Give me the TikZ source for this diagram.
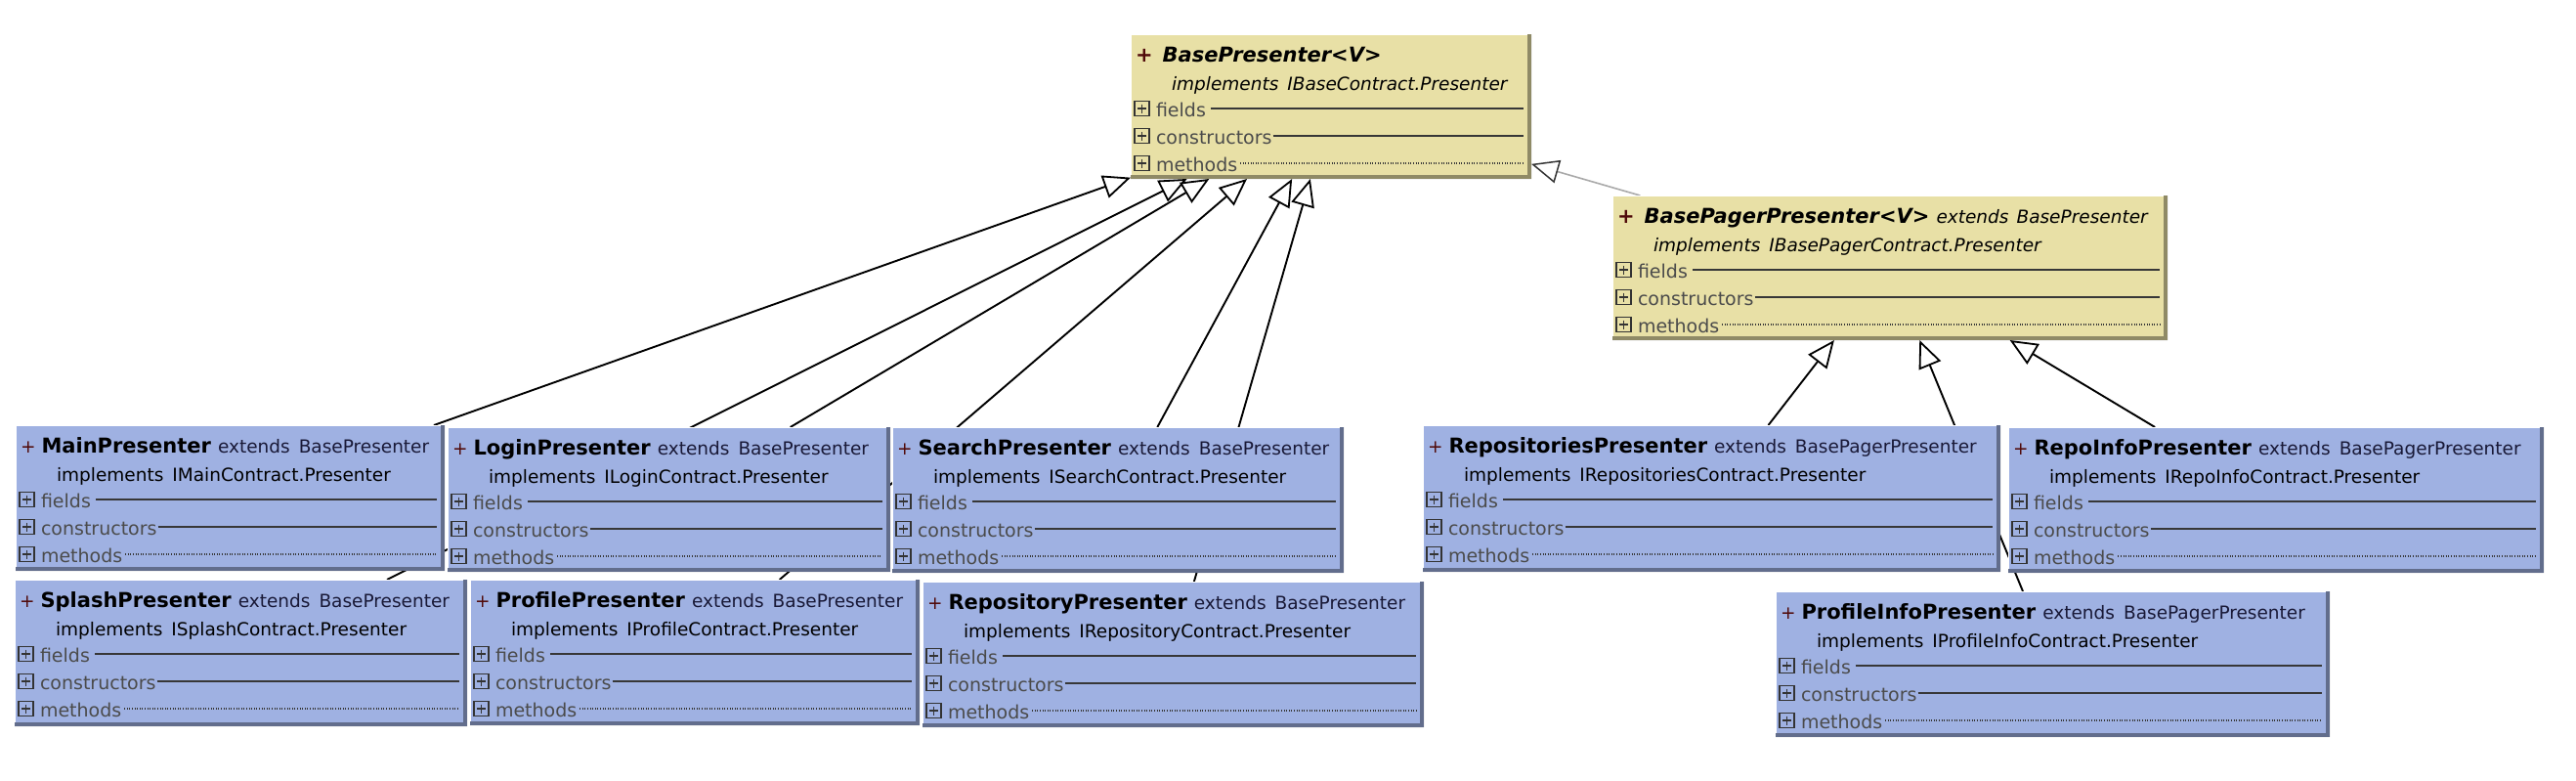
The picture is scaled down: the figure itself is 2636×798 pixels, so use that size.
\documentclass[tikz,border=0pt]{standalone}
\usepackage{fontspec}
\setmainfont{DejaVu Sans}
\usetikzlibrary{arrows.meta,calc}
\pgfdeclarelayer{background}
\pgfsetlayers{background,main}

\definecolor{boxblue}{RGB}{159,177,226}
\definecolor{boxyel}{RGB}{232,224,166}
\definecolor{plusc}{RGB}{80,10,10}
\definecolor{extc}{RGB}{25,25,55}
\definecolor{rowc}{RGB}{75,75,75}
\definecolor{linec}{RGB}{55,55,55}
\definecolor{pagerline}{RGB}{170,170,170}

\newcommand\fsTitle{\fontsize{21}{25}\selectfont}
\newcommand\fsSub{\fontsize{18.5}{22}\selectfont}
\newcommand\fsRow{\fontsize{19}{22}\selectfont}
\newcommand\plusmark{{\color{plusc}+}\hspace{6pt}}
\newcommand\cname[1]{{\fsTitle\bfseries #1}}
\newcommand\ext[1]{\hspace{7pt}{\color{extc}extends\hspace{9pt}#1}}
\newcommand\impl[1]{implements\hspace{9pt}#1}

\tikzset{
  clsbox/.style={rectangle, inner sep=0pt, outer sep=0pt, draw=none},
  ttl/.style={anchor=base west, inner sep=0pt, outer sep=0pt},
  impltxt/.style={anchor=base west, inner sep=0pt, outer sep=0pt},
  rowtxt/.style={anchor=base west, inner sep=0pt, outer sep=0pt, text=rowc},
  rowline/.style={draw=linec, line width=1.4pt},
  dotline/.style={draw=linec, line width=1.1pt, dash pattern=on 1pt off 1.6pt},
  icon/.style={draw=black!80, line width=1.2pt},
  inh/.style={draw=black, line width=1.9pt,
    -{Triangle[length=28pt, width=24pt, fill=white, line width=1.8pt]}},
  inhgray/.style={draw=pagerline, line width=1.6pt,
    -{Triangle[length=28pt, width=24pt, fill=white, color=black!80, line width=1.5pt]}},
}

% #1 name, #2 x1, #3 y1, #4 x2, #5 y2, #6 fill, #7 font family, #8 title, #9 implements
\newcommand\umlbox[9]{%
  \node[clsbox, fill=#6, minimum width={#4-#2}, minimum height={#5-#3}] (#1) at ({(#2+#4)/2},{(#3+#5)/2}) {};
  \fill[black, fill opacity=0.38] (#4-4,#3) -- (#4,#3) -- (#4,#5) -- (#2,#5) -- (#2,#5-4) -- (#4-4,#5-4) -- cycle;
  \draw[white, line width=1.4pt] (#2+0.7,#5-4) -- (#2+0.7,#3+0.7) -- (#4-4,#3+0.7);
  \node[ttl, font=#7\fsSub] (#1-t) at (#2+5,#3+28) {#8};
  \node[impltxt, font=#7\fsSub] (#1-i) at (#2+42,#3+57) {#9};
  \node[rowtxt, font=#7\fsRow] (#1-f) at (#2+26,#3+84) {fields};
  \node[rowtxt, font=#7\fsRow] (#1-c) at (#2+26,#3+112) {constructors};
  \node[rowtxt, font=#7\fsRow] (#1-m) at (#2+26,#3+140) {methods};
  \draw[rowline] ($(#1-f.base east)+(5,-8)$) -- (#4-8,#3+76);
  \draw[rowline] ($(#1-c.base east)+(1,-8)$) -- (#4-8,#3+104);
  \draw[dotline] ($(#1-m.base east)+(3,-8)$) -- (#4-8,#3+132);
  \foreach \ly in {76,104,132}{
    \draw[icon] (#2+4,#3+\ly-7.5) rectangle (#2+19,#3+\ly+7.5);
    \draw[icon] (#2+7,#3+\ly) -- (#2+16,#3+\ly);
    \draw[icon] (#2+11.5,#3+\ly-4.5) -- (#2+11.5,#3+\ly+4.5);
  }
}

\begin{document}
\begin{tikzpicture}[x=1pt, y=-1pt]
\useasboundingbox (0,0) rectangle (2636,798);

\umlbox{base}{1157}{35}{1567}{183}{boxyel}{\relax}
  {{\color{plusc}\fsTitle\bfseries\itshape +}\hspace{10pt}{\fsTitle\bfseries\itshape BasePresenter<V>}}
  {\itshape implements\hspace{9pt}IBaseContract.Presenter}
\umlbox{pager}{1650}{200}{2218}{348}{boxyel}{\relax}
  {{\color{plusc}\fsTitle\bfseries\itshape +}\hspace{10pt}{\fsTitle\bfseries\itshape BasePagerPresenter<V>}\hspace{7pt}{\itshape extends\hspace{8pt}BasePresenter}}
  {\itshape implements\hspace{9pt}IBasePagerContract.Presenter}

\umlbox{main}{16}{435}{455}{584}{boxblue}{\relax}
  {\plusmark\cname{MainPresenter}\ext{BasePresenter}}{\impl{IMainContract.Presenter}}
\umlbox{login}{458}{437}{911}{585}{boxblue}{\relax}
  {\plusmark\cname{LoginPresenter}\ext{BasePresenter}}{\impl{ILoginContract.Presenter}}
\umlbox{search}{913}{437}{1375}{586}{boxblue}{\relax}
  {\plusmark\cname{SearchPresenter}\ext{BasePresenter}}{\impl{ISearchContract.Presenter}}
\umlbox{splash}{15}{593}{478}{743}{boxblue}{\relax}
  {\plusmark\cname{SplashPresenter}\ext{BasePresenter}}{\impl{ISplashContract.Presenter}}
\umlbox{profile}{481}{593}{941}{742}{boxblue}{\relax}
  {\plusmark\cname{ProfilePresenter}\ext{BasePresenter}}{\impl{IProfileContract.Presenter}}
\umlbox{repository}{944}{595}{1457}{744}{boxblue}{\relax}
  {\plusmark\cname{RepositoryPresenter}\ext{BasePresenter}}{\impl{IRepositoryContract.Presenter}}

\umlbox{repositories}{1456}{435}{2047}{585}{boxblue}{\relax}
  {\plusmark\cname{RepositoriesPresenter}\ext{BasePagerPresenter}}{\impl{IRepositoriesContract.Presenter}}
\umlbox{repoinfo}{2055}{437}{2603}{586}{boxblue}{\relax}
  {\plusmark\cname{RepoInfoPresenter}\ext{BasePagerPresenter}}{\impl{IRepoInfoContract.Presenter}}
\umlbox{profileinfo}{1817}{605}{2384}{754}{boxblue}{\relax}
  {\plusmark\cname{ProfileInfoPresenter}\ext{BasePagerPresenter}}{\impl{IProfileInfoContract.Presenter}}

\begin{pgfonlayer}{background}
  \fill[white] (0,0) rectangle (2636,798);
  \draw[inh] (main) -- (base);
  \draw[inh] (splash) -- (base);
  \draw[inh] (login) -- (base);
  \draw[inh] (profile) -- (base);
  \draw[inh] (search) -- (base);
  \draw[inh] (repository) -- (base);
  \draw[inhgray] (pager) -- (base);
  \draw[inh] (repositories) -- (pager);
  \draw[inh] (repoinfo) -- (pager);
  \draw[inh] (profileinfo) -- (pager);
\end{pgfonlayer}
\end{tikzpicture}
\end{document}
